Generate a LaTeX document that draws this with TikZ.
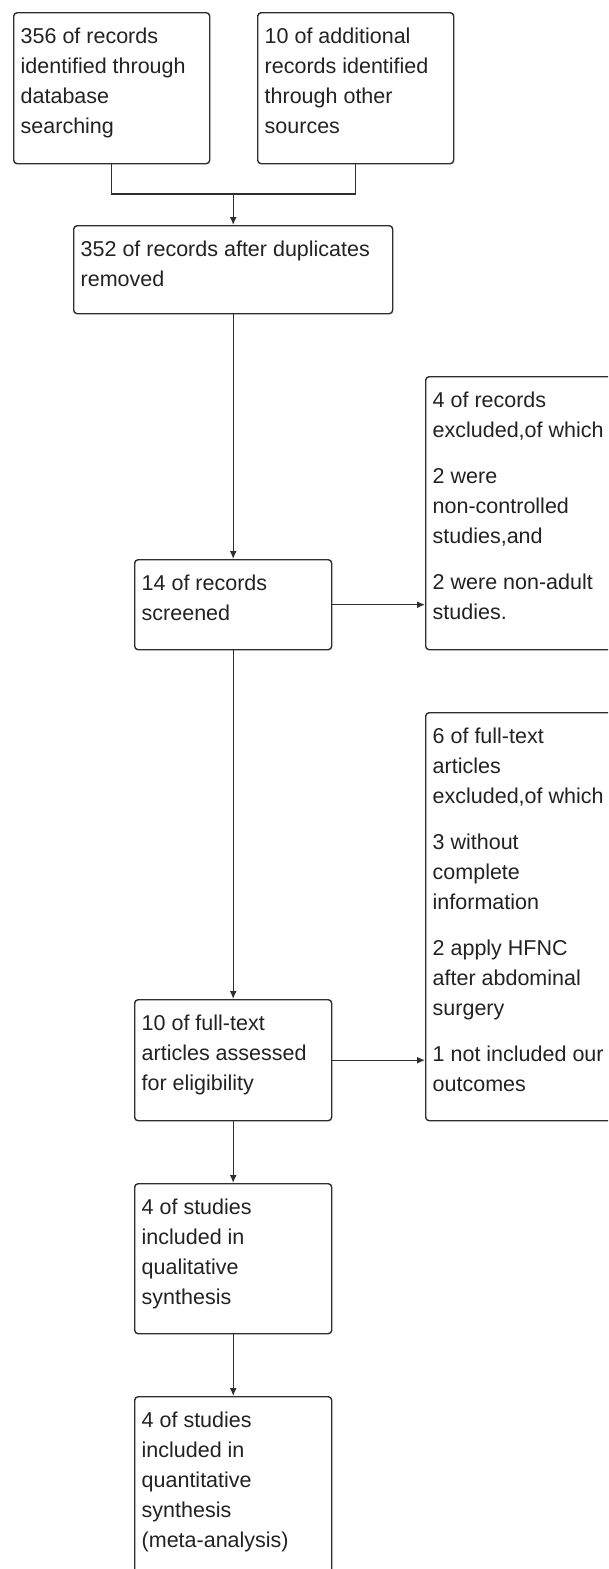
\documentclass[tikz,border=0pt]{standalone}
\usepackage{fontspec}
\setmainfont{Liberation Sans}
\usepackage{tikz}
\usetikzlibrary{arrows.meta, positioning}
\usepackage{xcolor}
\definecolor{boxgray}{HTML}{2E2E2E}
\definecolor{textgray}{HTML}{222222}

% text block inside a box: width, height, lines
\newcommand{\boxtxt}[3]{\parbox[c][#2][t]{#1}{\raggedright\rule{0pt}{31pt}#3}}

\begin{document}
\begin{tikzpicture}[x=1pt, y=-1pt,
    flowbox/.style={draw=boxgray, line width=1.4pt, rounded corners=3.5pt,
      anchor=north west, inner xsep=7pt, inner ysep=0pt, text=textgray,
      font=\fontsize{21.5}{30}\selectfont},
    flowline/.style={draw=boxgray, line width=1.4pt},
    flowarrow/.style={flowline, -{Latex[length=8pt,width=7pt]}}]
  \useasboundingbox (0,0) rectangle (608,1569);
  \clip (0,0) rectangle (608,1569);
  \fill[white] (0,0) rectangle (608,1569);

  % identification
  \node[flowbox] (ident) at (13,12)
    {\boxtxt{182pt}{151pt}{356 of records\\identified through\\database\\searching}};
  \node[flowbox] (other) at (257,12)
    {\boxtxt{182pt}{151pt}{10 of additional\\records identified\\through other\\sources}};
  \node[flowbox] (dedup) at (73,225)
    {\boxtxt{305pt}{88pt}{352 of records after duplicates\\removed}};

  % screening
  \node[flowbox] (screen) at (134,559)
    {\boxtxt{183pt}{90pt}{14 of records\\screened}};
  \node[flowbox] (excl) at (425,376)
    {\boxtxt{183pt}{273pt}{4 of records\\excluded,of which\\[16pt]2 were\\non-controlled\\studies,and\\[16pt]2 were non-adult\\studies.}};

  % eligibility
  \node[flowbox] (full) at (134,999)
    {\boxtxt{183pt}{121pt}{10 of full-text\\articles assessed\\for eligibility}};
  \node[flowbox] (fullexcl) at (425,712)
    {\boxtxt{183pt}{408pt}{6 of full-text\\articles\\excluded,of which\\[16pt]3 without\\complete\\information\\[16pt]2 apply HFNC\\after abdominal\\surgery\\[16pt]1 not included our\\outcomes}};

  % included
  \node[flowbox] (qual) at (134,1183)
    {\boxtxt{183pt}{150pt}{4 of studies\\included in\\qualitative\\synthesis}};
  \node[flowbox] (quant) at (134,1396)
    {\boxtxt{183pt}{200pt}{4 of studies\\included in\\quantitative\\synthesis\\(meta-analysis)}};

  \path (dedup.north) ++(0,-31) coordinate (merge);
  \draw[flowline] (ident.south) |- (merge) -| (other.south);
  \draw[flowarrow] (merge) -- (dedup.north);
  \draw[flowarrow] (dedup.south) -- (screen.north);
  \draw[flowarrow] (screen.east) -- (screen.east -| excl.west);
  \draw[flowarrow] (screen.south) -- (full.north);
  \draw[flowarrow] (full.east) -- (full.east -| fullexcl.west);
  \draw[flowarrow] (full.south) -- (qual.north);
  \draw[flowarrow] (qual.south) -- (quant.north);
\end{tikzpicture}
\end{document}
